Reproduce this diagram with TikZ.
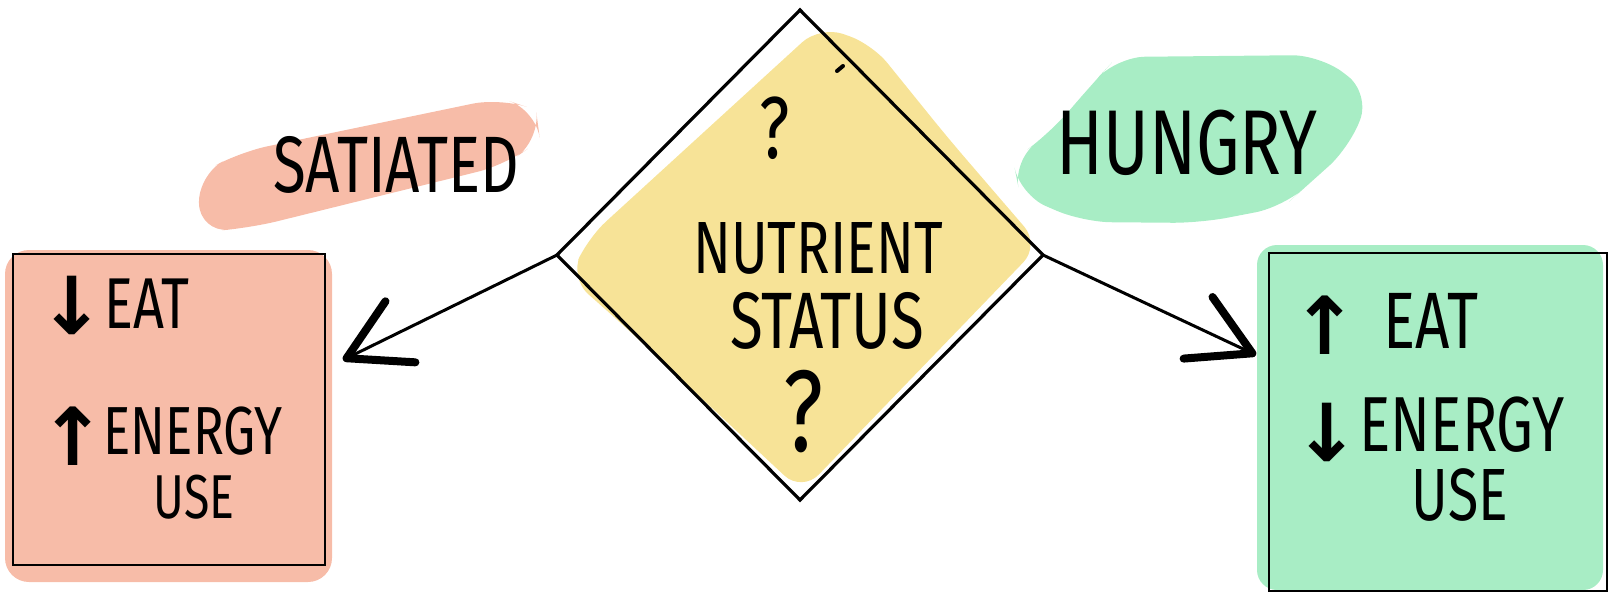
\documentclass[tikz,border=0pt]{standalone}
\usepackage{fontspec}
\newfontfamily\handfont{Fira Sans}[FakeStretch=0.75]
\newfontfamily\arrowfont{DejaVu Sans}
\usetikzlibrary{shapes.geometric, arrows.meta}
\definecolor{satpink}{RGB}{247,188,168}
\definecolor{hungreen}{RGB}{168,237,197}
\definecolor{statyellow}{RGB}{247,227,151}

\begin{document}
\begin{tikzpicture}[x=0.5pt, y=-0.5pt,
	txt/.style={font=\handfont\fontsize{#1}{#1}\selectfont, inner sep=0pt},
	arr/.style={font=\arrowfont\bfseries\fontsize{#1}{#1}\selectfont, inner sep=0pt},
	box/.style={draw, line width=1.3pt, inner sep=0pt, outer sep=0pt},
	conn/.style={line width=1.5pt, -{Straight Barb[length=30pt, width=34pt, line width=4pt, round]}}]
	\useasboundingbox (0,0) rectangle (1614,595);
	% Colour patches:
	\fill[satpink, rounded corners=12pt] (5,250) rectangle (332,582);
	\fill[hungreen, rounded corners=10pt] (1257,245) rectangle (1603,590);
	\fill[statyellow, rounded corners=12pt] (820,26) -- (872,44) -- (948,138) -- (1040,245)
		-- (802,492) -- (622,324) -- (570,278) -- (588,238) -- cycle;
	\fill[satpink, rounded corners=14pt] (198,175) -- (240,152) -- (500,98) -- (536,110) -- (540,140)
		-- (505,165) -- (250,228) -- (200,232) -- cycle;
	\fill[hungreen, rounded corners=14pt] (1013,160) -- (1050,133) -- (1093,83) -- (1117,57) -- (1320,55)
		-- (1370,93) -- (1350,147) -- (1310,183) -- (1283,207) -- (1200,223) -- (1083,222)
		-- (1020,195) -- cycle;
	% Nodes:
	\node[draw, diamond, minimum width=243pt, minimum height=245pt, line width=1.6pt,
		inner sep=0pt, outer sep=0pt] (status) at (800,255) {};
	\node[box, minimum width=156pt, minimum height=155.5pt] (sat) at (169,409.5) {};
	\node[box, minimum width=169pt, minimum height=169pt] (hun) at (1438,422) {};
	\draw[line width=2pt, line cap=round] (837,71) -- (843,66);
	% Texts:
	\node[txt=40pt] (sattitle) at (396,165) {SATIATED};
	\node[txt=46pt] (huntitle) at (1187,143) {HUNGRY};
	\node[txt=44pt] (qtop) at (775,128) {?};
	\node[txt=37pt] (nutr) at (818,248) {NUTRIENT};
	\node[txt=40pt] (stat) at (827,321) {STATUS};
	\node[txt=58pt] (qbot) at (803,412) {?};
	\node[arr=40pt] (satdown) at (72,305) {↓};
	\node[txt=36pt] (sateat) at (147,304) {EAT};
	\node[arr=40pt] (satup) at (73,436) {↑};
	\node[txt=34pt] (satenergy) at (193,431) {ENERGY};
	\node[txt=31pt] (satuse) at (194,497) {USE};
	\node[arr=40pt] (hunup) at (1325,325) {↑};
	\node[txt=40pt] (huneat) at (1431,321) {EAT};
	\node[arr=40pt] (hundown) at (1327,432) {↓};
	\node[txt=39pt] (hunenergy) at (1462,425) {ENERGY};
	\node[txt=37pt] (hunuse) at (1460,495) {USE};
	% Connectors:
	\coordinate (satin) at (343,360);
	\coordinate (hunin) at (1256,355);
	\draw[conn] (status.west) -- (satin);
	\draw[conn] (status.east) -- (hunin);
\end{tikzpicture}
\end{document}
